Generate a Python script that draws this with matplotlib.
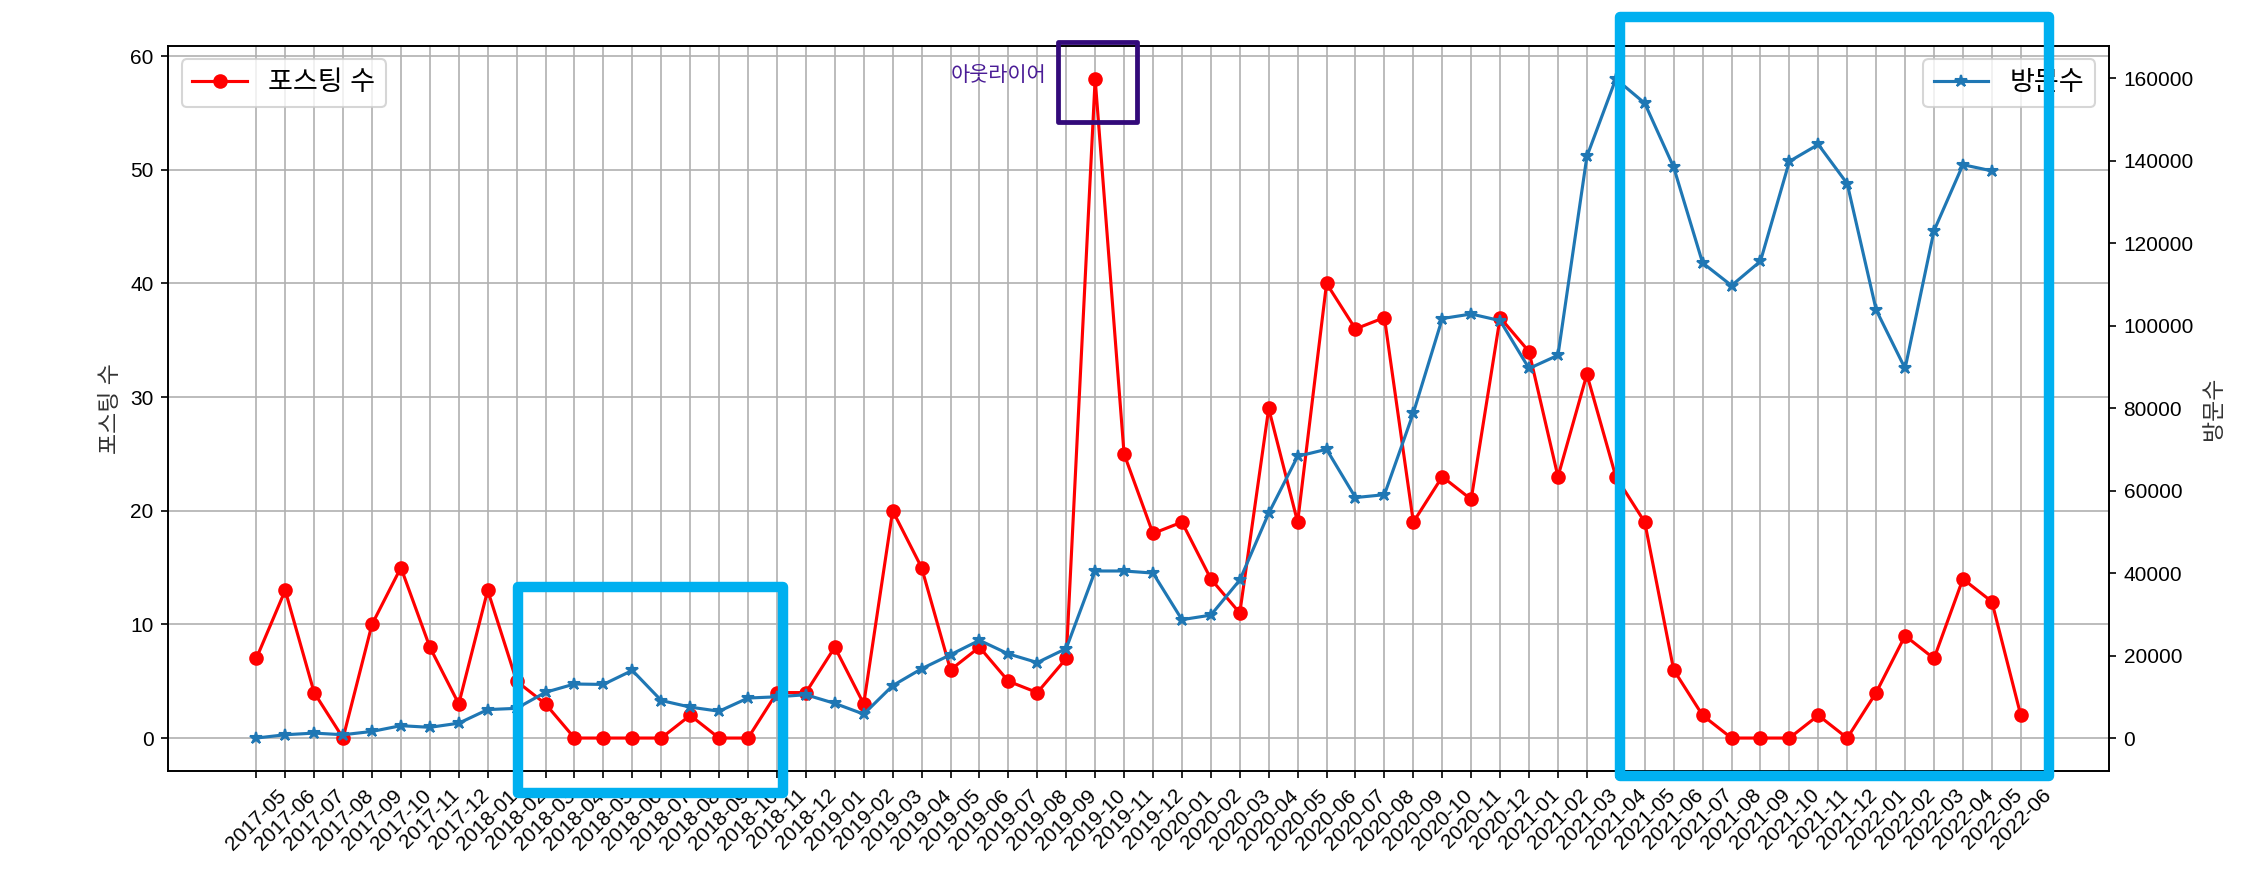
import matplotlib
matplotlib.use("Agg")
import matplotlib.pyplot as plt
from matplotlib.patches import Rectangle

plt.rcParams['font.family'] = ['Liberation Sans', 'Noto Sans CJK KR', 'DejaVu Sans']

months = ['2017-05', '2017-06', '2017-07', '2017-08', '2017-09', '2017-10', '2017-11', '2017-12',
          '2018-01', '2018-02', '2018-03', '2018-04', '2018-05', '2018-06', '2018-07', '2018-08',
          '2018-09', '2018-10', '2018-11', '2018-12',
          '2019-01', '2019-02', '2019-03', '2019-04', '2019-05', '2019-06', '2019-07', '2019-08',
          '2019-09', '2019-10', '2019-11', '2019-12',
          '2020-01', '2020-02', '2020-03', '2020-04', '2020-05', '2020-06', '2020-07', '2020-08',
          '2020-09', '2020-10', '2020-11', '2020-12',
          '2021-01', '2021-02', '2021-03', '2021-04', '2021-05', '2021-06', '2021-07', '2021-08',
          '2021-09', '2021-10', '2021-11', '2021-12',
          '2022-01', '2022-02', '2022-03', '2022-04', '2022-05', '2022-06']

posts = [7, 13, 4, 0, 10, 15, 8, 3,
         13, 5, 3, 0, 0, 0, 0, 2, 0, 0, 4, 4,
         8, 3, 20, 15, 6, 8, 5, 4, 7, 58, 25, 18,
         19, 14, 11, 29, 19, 40, 36, 37, 19, 23, 21, 37,
         34, 23, 32, 23, 19, 6, 2, 0, 0, 0, 2, 0,
         4, 9, 7, 14, 12, 2]

visits = [0, 800, 1200, 800, 1600, 3000, 2600, 3600,
          6900, 7200, 11100, 13100, 13000, 16400, 9100, 7500, 6500, 9700, 10000, 10500,
          8400, 5800, 12700, 16800, 20200, 23700, 20400, 18300, 21700, 40500, 40500, 40000,
          28700, 29800, 38300, 54500, 68300, 70000, 58300, 59000, 78800, 101700, 102800, 101200,
          89600, 92800, 141000, 159800, 153900, 138400, 115200, 109700, 115600, 139800, 143900, 134400,
          103800, 89600, 123000, 139000, 137500]

posts_label = '포스팅 수'
visits_label = '방문수'
outlier_label = '아웃라이어'

fig = plt.figure(figsize=(15.12, 5.807), dpi=150)
ax1 = fig.add_axes([0.0741, 0.1148, 0.9299 - 0.0741, 0.9472 - 0.1148])
ax1.plot(months, posts, color='red', marker='o', label=posts_label)
ax1.set_ylabel(posts_label, fontsize=11, color='#333333')
ax1.grid(True, color='#b0b0b0')
ax1.tick_params(axis='x', rotation=45)
ax1.legend(loc='upper left', fontsize=13)

ax2 = ax1.twinx()
ax2.plot(months[:len(visits)], visits, color='#1f77b4', marker='*', label=visits_label)
ax2.set_ylabel(visits_label, fontsize=11, color='#333333')
ax2.legend(loc='upper right', fontsize=13)

# annotation boxes (in data coordinates of the posts axis)
cyan = '#00b0f0'
ax2.add_patch(Rectangle((9.06, -4.86), 18.2 - 9.06, 13.3 + 4.86, transform=ax1.transData,
                        fill=False, edgecolor=cyan, linewidth=5, joinstyle='round',
                        clip_on=False, zorder=20))
ax2.add_patch(Rectangle((47.15, -3.33), 61.96 - 47.15, 63.45 + 3.33, transform=ax1.transData,
                        fill=False, edgecolor=cyan, linewidth=5, joinstyle='round',
                        clip_on=False, zorder=20))
ax2.add_patch(Rectangle((27.73, 54.24), 30.43 - 27.73, 61.28 - 54.24, transform=ax1.transData,
                        fill=False, edgecolor='#330a7a', linewidth=2.3, joinstyle='round',
                        clip_on=False, zorder=20))
ax2.text(27.3, 58.3, outlier_label, transform=ax1.transData, ha='right', va='center',
         color='#4a1c96', fontsize=10, zorder=20)

fig.savefig('out.png', dpi=150)
